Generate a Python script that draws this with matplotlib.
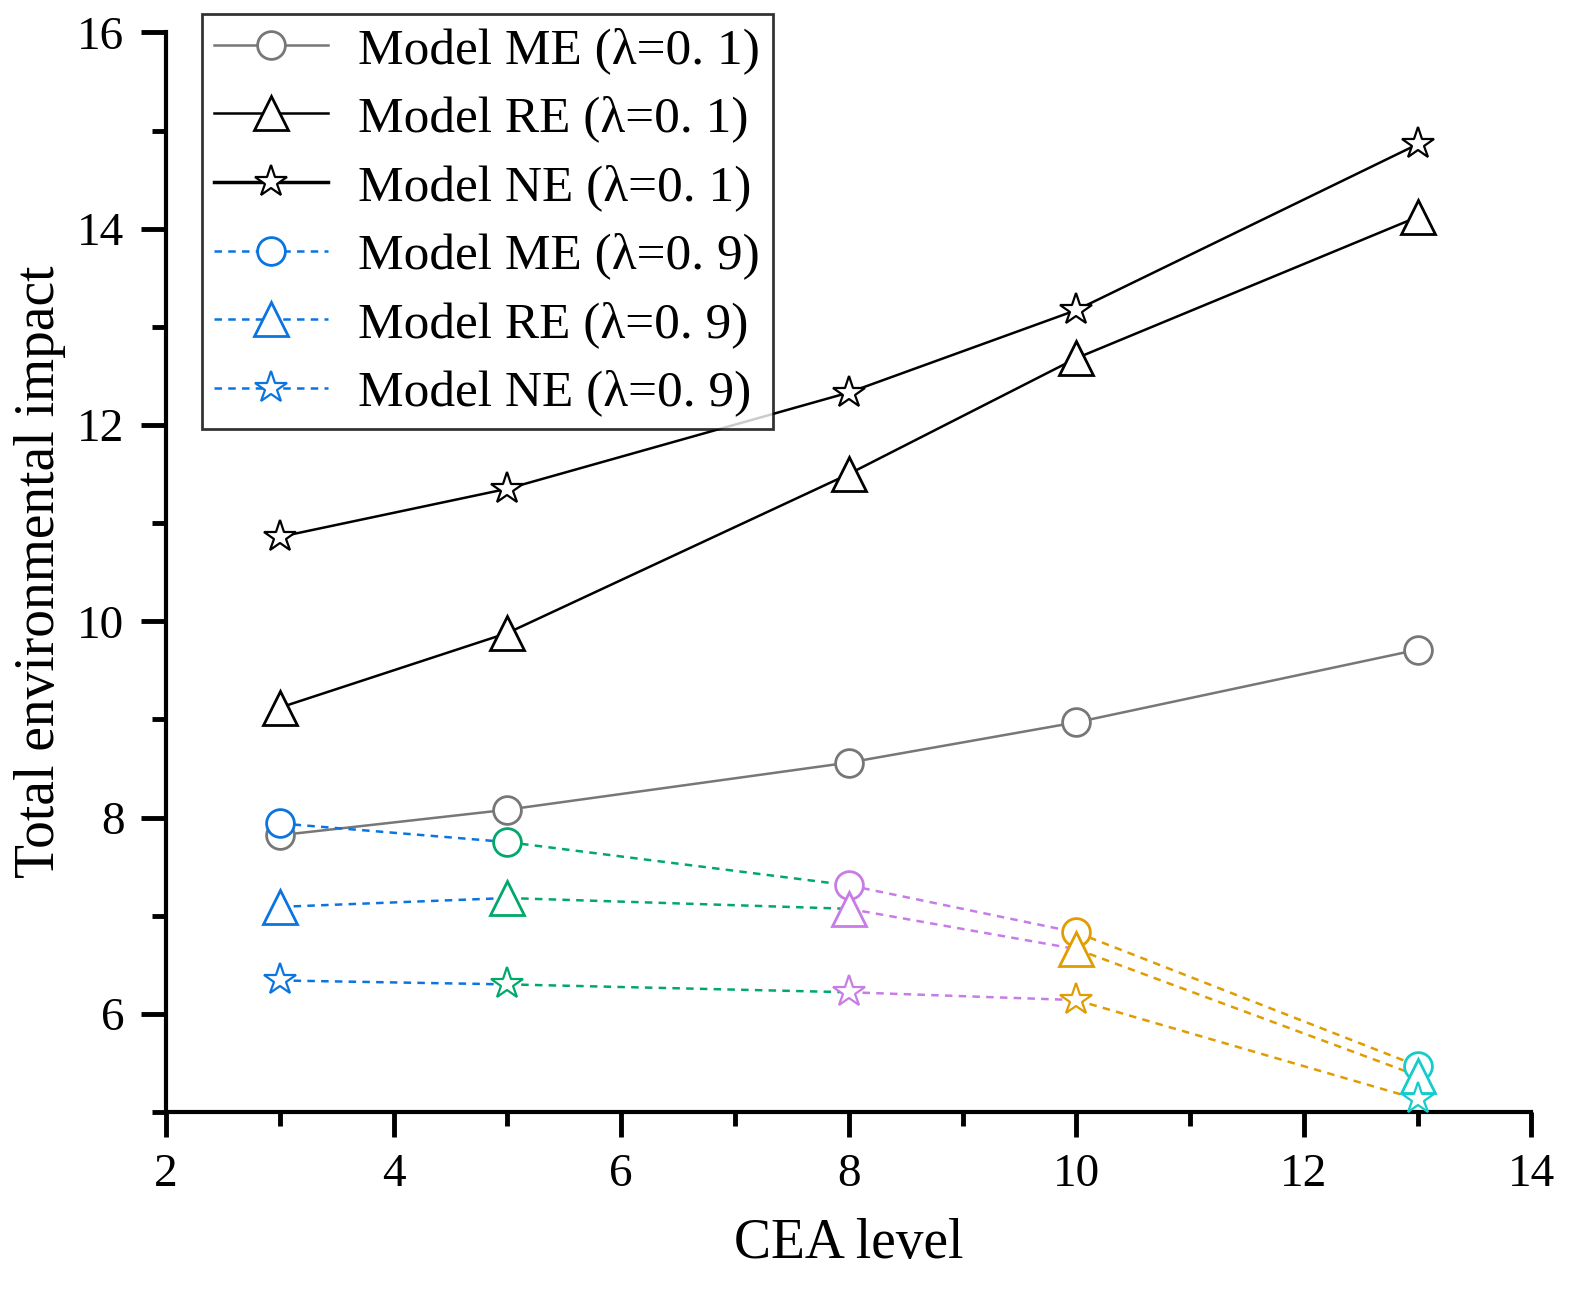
import numpy as np
import matplotlib
matplotlib.use("Agg")
import matplotlib.pyplot as plt
from matplotlib.lines import Line2D
from matplotlib.ticker import MultipleLocator

plt.rcParams["font.family"] = ["Liberation Serif", "DejaVu Serif"]

cea = [3, 5, 8, 10, 13]

me_01 = [7.82, 8.08, 8.56, 8.97, 9.71]
re_01 = [9.12, 9.88, 11.50, 12.68, 14.12]
ne_01 = [10.86, 11.35, 12.33, 13.17, 14.86]

me_09 = [7.94, 7.75, 7.31, 6.83, 5.47]
re_09 = [7.09, 7.18, 7.07, 6.66, 5.37]
ne_09 = [6.34, 6.30, 6.22, 6.14, 5.13]

labels = ["Model ME (λ=0. 1)", "Model RE (λ=0. 1)", "Model NE (λ=0. 1)",
          "Model ME (λ=0. 9)", "Model RE (λ=0. 9)", "Model NE (λ=0. 9)"]

# colour of each point for the λ=0.9 series (segment takes colour of its start point)
point_colors = ["#0a74e0", "#00a86b", "#c77ce6", "#e09c00", "#14cccc"]

fig = plt.figure(figsize=(15.82, 12.96), dpi=100)
ax = fig.add_axes([0.105, 0.142, 0.863, 0.833])

ms = 20
dash = (0, (3, 2.5))
ax.plot(cea, me_01, "-", color="#777777", lw=1.8, marker="o", ms=ms,
        mfc="white", mec="#777777", mew=2)
ax.plot(cea, re_01, "-", color="black", lw=1.8, marker="^", ms=ms + 4,
        mfc="white", mec="black", mew=2)
ax.plot(cea, ne_01, "-", color="black", lw=1.8, marker="*", ms=ms + 4,
        mfc="white", mec="black", mew=1.6)

for ys, mk, size in [(me_09, "o", ms), (re_09, "^", ms + 4), (ne_09, "*", ms + 4)]:
    for i in range(len(cea) - 1):
        ax.plot(cea[i:i + 2], ys[i:i + 2], ls=dash, lw=1.8,
                color=point_colors[i], zorder=2)
    for i in range(len(cea)):
        ax.plot(cea[i], ys[i], marker=mk, ms=size, mfc="white",
                mec=point_colors[i], mew=2 if mk != "*" else 1.6, ls="none", zorder=3)

ax.set_xlim(2, 14)
ax.set_ylim(5, 16)
ax.xaxis.set_major_locator(MultipleLocator(2))
ax.xaxis.set_minor_locator(MultipleLocator(1))
ax.yaxis.set_minor_locator(MultipleLocator(1))
ax.set_yticks([6, 8, 10, 12, 14, 16])

for s in ["top", "right"]:
    ax.spines[s].set_visible(False)
for s in ["left", "bottom"]:
    ax.spines[s].set_linewidth(3)

ax.tick_params(which="major", direction="out", length=18, width=3.5, labelsize=34, pad=12)
ax.tick_params(which="minor", direction="out", length=10, width=3.5)

ax.set_xlabel("CEA level", fontsize=40, labelpad=16)
ax.set_ylabel("Total environmental impact", fontsize=40, labelpad=8)

handles = [
    Line2D([], [], color="#777777", lw=1.8, marker="o", ms=ms, mfc="white", mec="#777777", mew=2),
    Line2D([], [], color="black", lw=1.8, marker="^", ms=ms + 4, mfc="white", mec="black", mew=2),
    Line2D([], [], color="black", lw=2.5, marker="*", ms=ms + 4, mfc="white", mec="black", mew=1.6),
    Line2D([], [], color=point_colors[0], lw=1.8, ls=dash, marker="o", ms=ms,
           mfc="white", mec=point_colors[0], mew=2),
    Line2D([], [], color=point_colors[0], lw=1.8, ls=dash, marker="^", ms=ms + 4,
           mfc="white", mec=point_colors[0], mew=2),
    Line2D([], [], color=point_colors[0], lw=1.8, ls=dash, marker="*", ms=ms + 4,
           mfc="white", mec=point_colors[0], mew=1.6),
]
leg = ax.legend(handles, labels, loc="upper left", bbox_to_anchor=(0.026, 1.017),
                fontsize=37, frameon=True, fancybox=False, edgecolor="black",
                handlelength=2.2, handletextpad=0.6, labelspacing=0.42,
                borderpad=0.25, borderaxespad=0)
leg.get_frame().set_linewidth(2)

fig.savefig("out.png", dpi=100)
